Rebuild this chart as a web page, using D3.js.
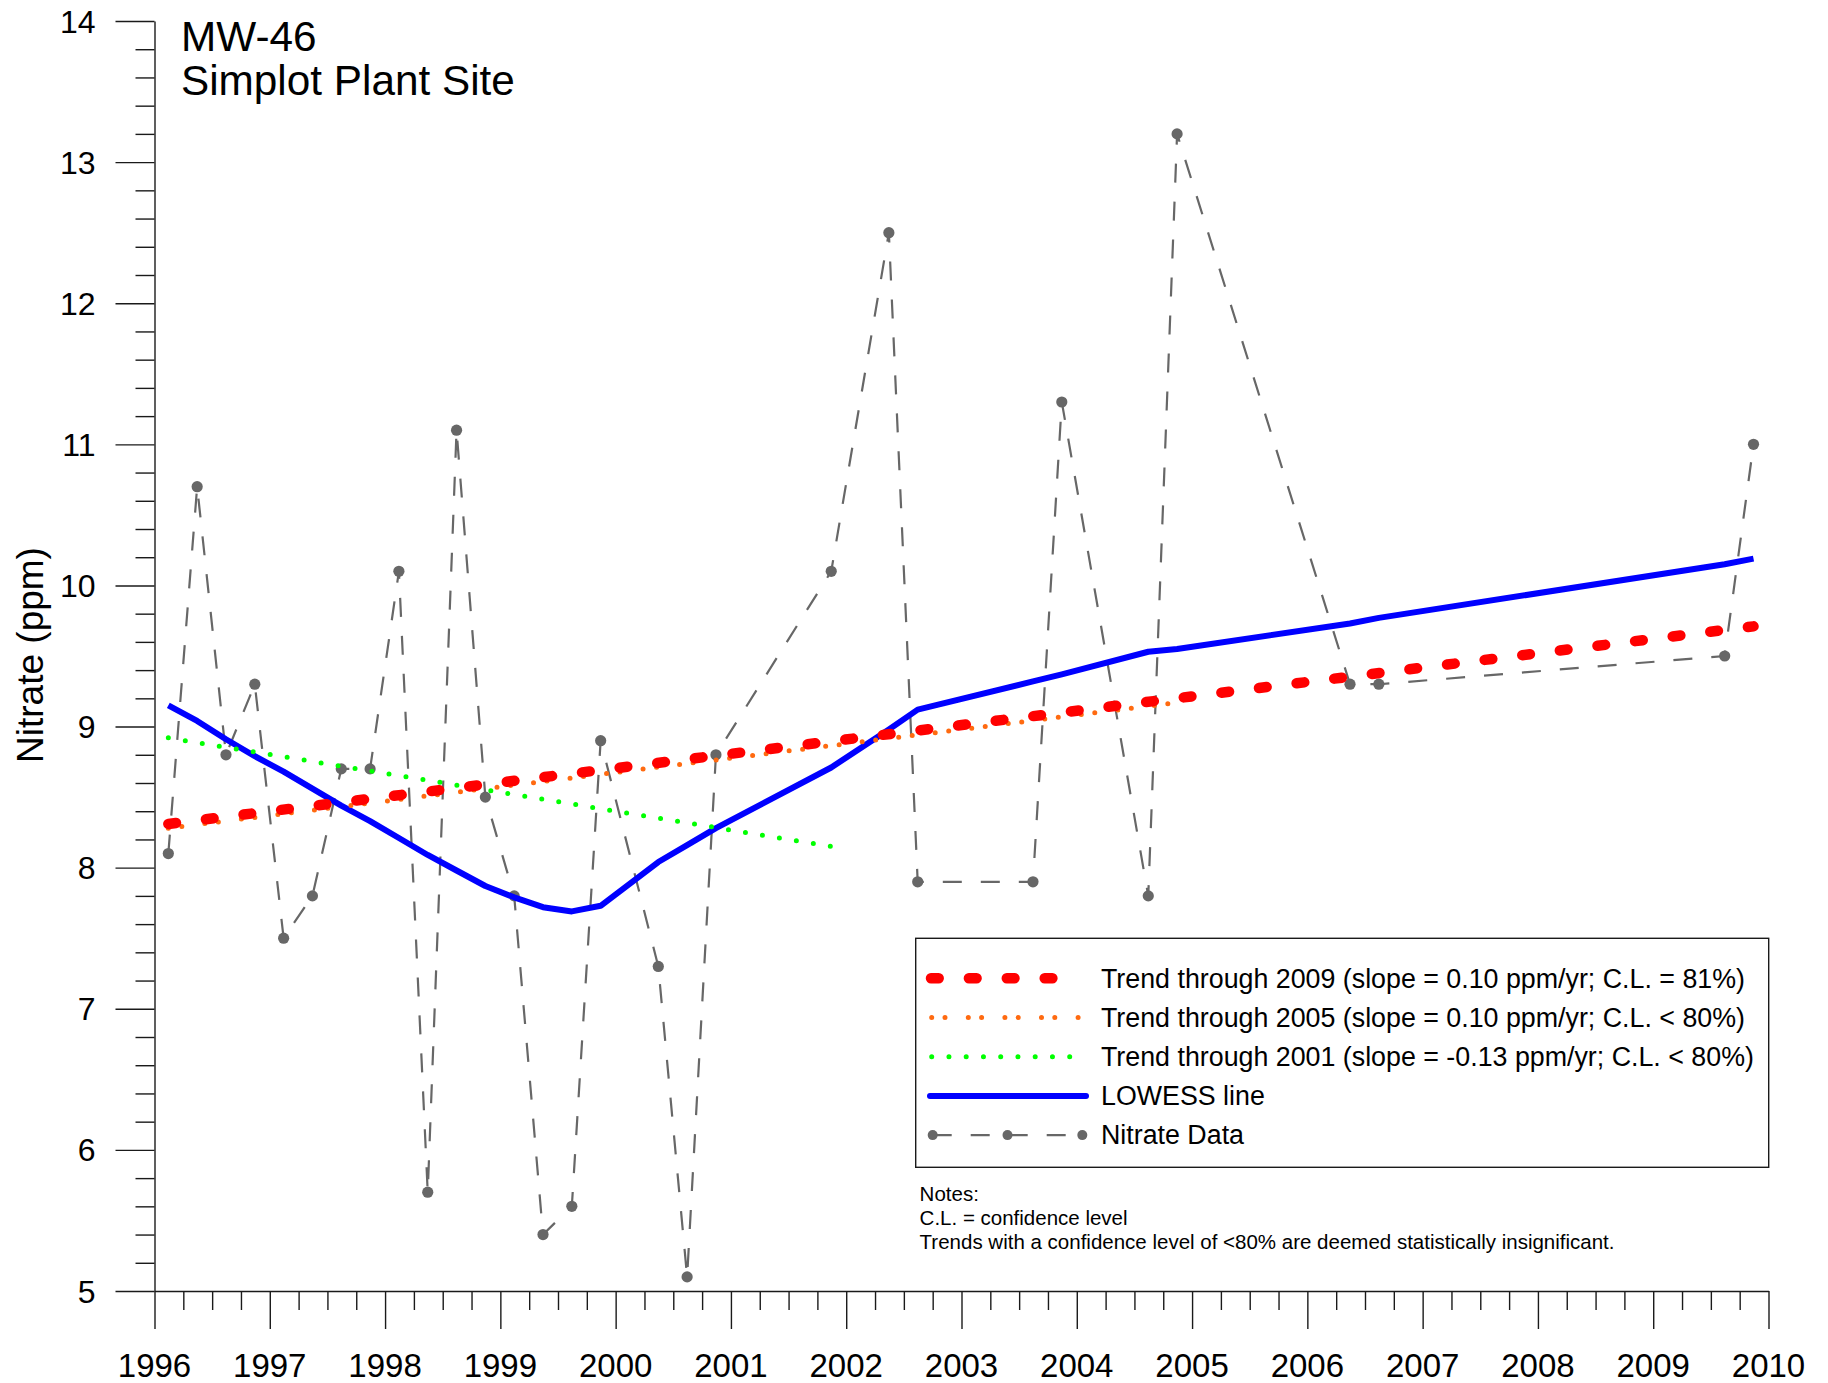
<!DOCTYPE html>
<html>
<head>
<meta charset="utf-8">
<script src="https://cdn.jsdelivr.net/npm/d3@7"></script>
<style>
  html, body { margin: 0; padding: 0; background: #fff; }
  svg { display: block; font-family: "Liberation Sans", Arial, Helvetica, sans-serif; }
</style>
</head>
<body>
<svg id="chart" width="1828" height="1383"></svg>
<script>
// ---------- Data (decimal years) ----------
const sampleYears = [1996.12, 1996.37, 1996.62, 1996.87, 1997.12, 1997.37, 1997.62, 1997.87,
  1998.12, 1998.37, 1998.62, 1998.87, 1999.12, 1999.37, 1999.62, 1999.87, 2000.37, 2000.62,
  2000.87, 2001.87, 2002.37, 2002.62, 2003.62, 2003.87, 2004.62, 2004.87, 2006.37, 2006.62,
  2009.62, 2009.87];
const nitrate = [8.1, 10.7, 8.8, 9.3, 7.5, 7.8, 8.7, 8.7,
  10.1, 5.7, 11.1, 8.5, 7.8, 5.4, 5.6, 8.9, 7.3, 5.1,
  8.8, 10.1, 12.5, 7.9, 7.9, 11.3, 7.8, 13.2, 9.3, 9.3,
  9.5, 11.0];
const lowess = [9.15, 9.04, 8.91, 8.79, 8.68, 8.56, 8.44, 8.33,
  8.21, 8.09, 7.98, 7.87, 7.79, 7.72, 7.69, 7.73, 8.04, 8.16,
  8.28, 8.71, 8.98, 9.12, 9.32, 9.37, 9.53, 9.55, 9.73, 9.77,
  10.15, 10.19];
// Trend lines: [startYear, startValue], [endYear, endValue]
const trend2009 = [[1996.12, 8.31], [2009.87, 9.71]];
const trend2005 = [[1996.12, 8.28], [2004.87, 9.17]];
const trend2001 = [[1996.12, 8.92], [2001.87, 8.15]];

const yearTicks = d3.range(1996, 2011, 1);
const valueTicks = d3.range(5, 15, 1);

const legendLabels = [
  "Trend through 2009 (slope = 0.10 ppm/yr; C.L. = 81%)",
  "Trend through 2005 (slope = 0.10 ppm/yr; C.L. < 80%)",
  "Trend through 2001 (slope = -0.13 ppm/yr; C.L. < 80%)",
  "LOWESS line",
  "Nitrate Data"
];
const notes = [
  "Notes:",
  "C.L. = confidence level",
  "Trends with a confidence level of <80% are deemed statistically insignificant."
];
const titleLines = ["MW-46", "Simplot Plant Site"];

// ---------- Layout ----------
const svg = d3.select("#chart");
const plotL = 154.5, plotR = 1768.5, plotT = 21, plotB = 1291;
const x = d3.scaleLinear().domain([1996, 2010]).range([plotL, plotR]);
const y = d3.scaleLinear().domain([5, 14]).range([plotB, plotT]);

const axisColor = "#1a1a1a";

// minor ticks
const xMinor = d3.range(1996, 2010.001, 0.25).filter(v => Math.abs(v - Math.round(v)) > 1e-6);
const yMinor = d3.range(5, 14.001, 0.2).filter(v => Math.abs(v - Math.round(v)) > 1e-6);

svg.append("g").attr("transform", `translate(0,${plotB})`)
  .call(d3.axisBottom(x).tickValues(yearTicks).tickSize(38).tickSizeOuter(0).tickFormat(""));
const gxm = svg.append("g").attr("transform", `translate(0,${plotB})`)
  .call(d3.axisBottom(x).tickValues(xMinor).tickSize(19).tickSizeOuter(0).tickFormat(""));
gxm.select(".domain").remove();

svg.append("g").attr("transform", `translate(${plotL},0)`)
  .call(d3.axisLeft(y).tickValues(valueTicks).tickSize(39).tickSizeOuter(0).tickFormat(""));
const gym = svg.append("g").attr("transform", `translate(${plotL},0)`)
  .call(d3.axisLeft(y).tickValues(yMinor).tickSize(19).tickSizeOuter(0).tickFormat(""));
gym.select(".domain").remove();

svg.selectAll(".domain, .tick line").attr("stroke", axisColor).attr("stroke-width", 1.4);

// tick labels
svg.append("g").selectAll("text").data(yearTicks).join("text")
  .attr("x", d => x(d)).attr("y", 1377)
  .attr("text-anchor", "middle").attr("font-size", 33).attr("fill", "#000")
  .text(d => d);
svg.append("g").selectAll("text").data(valueTicks).join("text")
  .attr("x", 95.5).attr("y", d => y(d) + 11.5)
  .attr("text-anchor", "end").attr("font-size", 32).attr("fill", "#000")
  .text(d => d);

// axis title
svg.append("text")
  .attr("transform", "translate(43,655) rotate(-90)")
  .attr("text-anchor", "middle").attr("font-size", 37).attr("fill", "#000")
  .text("Nitrate (ppm)");

// chart title
svg.append("g").selectAll("text").data(titleLines).join("text")
  .attr("x", 181).attr("y", (d, i) => 50.7 + i * 44.3)
  .attr("font-size", 42.3).attr("fill", "#000")
  .text(d => d);

// ---------- Series ----------
const pts = sampleYears.map((t, i) => [t, nitrate[i]]);
const lowPts = sampleYears.map((t, i) => [t, lowess[i]]);
const line = d3.line().x(d => x(d[0])).y(d => y(d[1]));

const grey = "#676767";
svg.append("path").datum(pts).attr("d", line)
  .attr("fill", "none").attr("stroke", grey).attr("stroke-width", 2.2)
  .attr("stroke-dasharray", "19 19");
svg.append("g").selectAll("circle").data(pts).join("circle")
  .attr("cx", d => x(d[0])).attr("cy", d => y(d[1])).attr("r", 5.6).attr("fill", grey);

svg.append("path").datum(lowPts).attr("d", line)
  .attr("fill", "none").attr("stroke", "#0000ff").attr("stroke-width", 6)
  .attr("stroke-linejoin", "round");

const styles = {
  t2001: { stroke: "#00ff00", width: 5, dash: "0 17.2" },
  t2005: { stroke: "#ff6a10", width: 5, dash: "0 13.6 0 23.2" },
  t2009: { stroke: "#ff0000", width: 10.5, dash: "7.7 30.2" }
};
[[trend2001, styles.t2001], [trend2005, styles.t2005], [trend2009, styles.t2009]].forEach(([d, s]) => {
  svg.append("path").datum(d).attr("d", line)
    .attr("fill", "none").attr("stroke", s.stroke).attr("stroke-width", s.width)
    .attr("stroke-linecap", "round").attr("stroke-dasharray", s.dash);
});

// ---------- Legend ----------
const lg = svg.append("g");
lg.append("rect").attr("x", 915.7).attr("y", 938.3).attr("width", 853).attr("height", 229)
  .attr("fill", "#fff").attr("stroke", axisColor).attr("stroke-width", 1.4);
const rowY = i => 978.3 + i * 39.2;
// red
lg.append("line").attr("x1", 931).attr("x2", 1060).attr("y1", rowY(0)).attr("y2", rowY(0))
  .attr("stroke", styles.t2009.stroke).attr("stroke-width", styles.t2009.width)
  .attr("stroke-linecap", "round").attr("stroke-dasharray", styles.t2009.dash);
// orange
lg.append("line").attr("x1", 931.7).attr("x2", 1079).attr("y1", rowY(1)).attr("y2", rowY(1))
  .attr("stroke", styles.t2005.stroke).attr("stroke-width", styles.t2005.width)
  .attr("stroke-linecap", "round").attr("stroke-dasharray", "0 13.3 0 23.3");
// green
lg.append("line").attr("x1", 931.7).attr("x2", 1071).attr("y1", rowY(2)).attr("y2", rowY(2))
  .attr("stroke", styles.t2001.stroke).attr("stroke-width", styles.t2001.width)
  .attr("stroke-linecap", "round").attr("stroke-dasharray", "0 17.25");
// blue
lg.append("line").attr("x1", 930).attr("x2", 1086).attr("y1", rowY(3)).attr("y2", rowY(3))
  .attr("stroke", "#0000ff").attr("stroke-width", 6).attr("stroke-linecap", "round");
// nitrate
lg.append("line").attr("x1", 932.7).attr("x2", 1082.3).attr("y1", rowY(4)).attr("y2", rowY(4))
  .attr("stroke", grey).attr("stroke-width", 2.2).attr("stroke-dasharray", "19 19");
lg.selectAll("circle.lm").data([932.7, 1007.5, 1082.3]).join("circle").attr("class", "lm")
  .attr("cx", d => d).attr("cy", rowY(4)).attr("r", 5).attr("fill", grey);

lg.selectAll("text.lt").data(legendLabels).join("text").attr("class", "lt")
  .attr("x", 1101).attr("y", (d, i) => rowY(i) + 9.3)
  .attr("font-size", 26.8).attr("fill", "#000")
  .text(d => d);

// notes
svg.append("g").selectAll("text").data(notes).join("text")
  .attr("x", 919.6).attr("y", (d, i) => 1200.7 + i * 24.3)
  .attr("font-size", 20.5).attr("fill", "#000")
  .text(d => d);
</script>
</body>
</html>
